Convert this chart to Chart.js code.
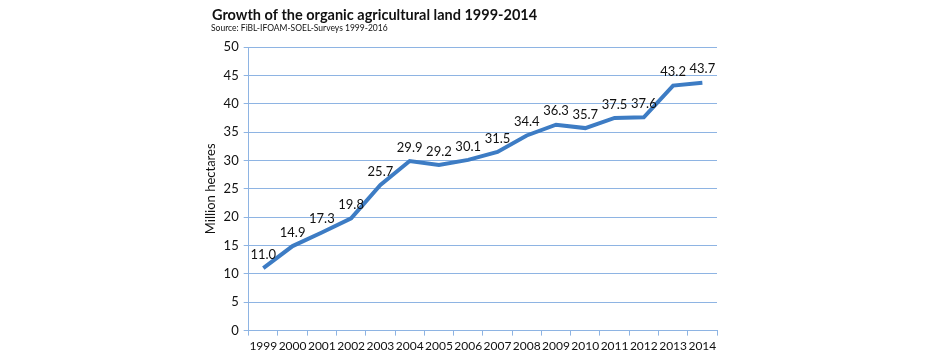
<!DOCTYPE html>
<html>
<head>
<meta charset="utf-8">
<script src="https://cdn.jsdelivr.net/npm/chart.js@4"></script>
<style>
  html, body { margin: 0; padding: 0; background: #fff; }
  #wrap { width: 940px; height: 362px; }
</style>
</head>
<body>
<div id="wrap"><canvas id="myChart" width="940" height="362"></canvas></div>
<script>
const years = ['1999', '2000', '2001', '2002', '2003', '2004', '2005', '2006',
               '2007', '2008', '2009', '2010', '2011', '2012', '2013', '2014'];
const hectares = [11.0, 14.9, 17.3, 19.8, 25.7, 29.9, 29.2, 30.1,
                  31.5, 34.4, 36.3, 35.7, 37.5, 37.6, 43.2, 43.7];
const titleText = 'Growth of the organic agricultural land 1999-2014';
const sourceText = 'Source: FiBL-IFOAM-SOEL-Surveys 1999-2016';

const blue = '#3d7cc4';
const gridBlue = '#8eb4e3';
const font = 'Lato';

// title + source line, drawn left of the plot like the original
const headings = {
    id: 'headings',
    afterDraw(chart) {
        const c = chart.ctx;
        c.save();
        c.fillStyle = '#111';
        c.textAlign = 'left';
        c.textBaseline = 'alphabetic';
        c.font = 'bold 14.5px ' + font;
        c.fillText(titleText, 212, 20);
        c.font = '8.5px ' + font;
        c.fillText(sourceText, 211, 31);
        c.restore();
    }
};

// value labels above each point
const pointLabels = {
    id: 'pointLabels',
    afterDatasetsDraw(chart) {
        const c = chart.ctx;
        const meta = chart.getDatasetMeta(0);
        c.save();
        c.font = '13px ' + font;
        c.fillStyle = '#111';
        c.textAlign = 'center';
        c.textBaseline = 'bottom';
        meta.data.forEach((pt, i) => {
            c.fillText(hectares[i].toFixed(1), pt.x, pt.y - 7);
        });
        c.restore();
    }
};

const ctx = document.getElementById('myChart').getContext('2d');
const myChart = new Chart(ctx, {
    type: 'line',
    data: {
        labels: years,
        datasets: [{
            data: hectares,
            borderColor: blue,
            borderWidth: 4,
            pointRadius: 0,
            tension: 0,
            fill: false
        }]
    },
    options: {
        responsive: false,
        animation: false,
        layout: { padding: { left: 200, right: 223, top: 47, bottom: 6 } },
        plugins: {
            legend: { display: false },
            tooltip: { enabled: false }
        },
        scales: {
            x: {
                offset: true,
                grid: {
                    display: true,
                    drawOnChartArea: false,
                    offset: true,
                    tickLength: 5,
                    color: gridBlue
                },
                border: { color: gridBlue },
                ticks: {
                    autoSkip: false,
                    maxRotation: 0,
                    color: '#111',
                    padding: 3,
                    font: { family: font, size: 12 }
                }
            },
            y: {
                min: 0,
                max: 50,
                grid: { color: gridBlue, tickLength: 5 },
                border: { color: gridBlue },
                ticks: {
                    stepSize: 5,
                    color: '#111',
                    padding: 5,
                    font: { family: font, size: 13 }
                },
                title: {
                    display: true,
                    text: 'Million hectares',
                    color: '#111',
                    font: { family: font, size: 13 },
                    padding: { top: 3, bottom: 0 }
                }
            }
        }
    },
    plugins: [headings, pointLabels]
});
</script>
</body>
</html>
